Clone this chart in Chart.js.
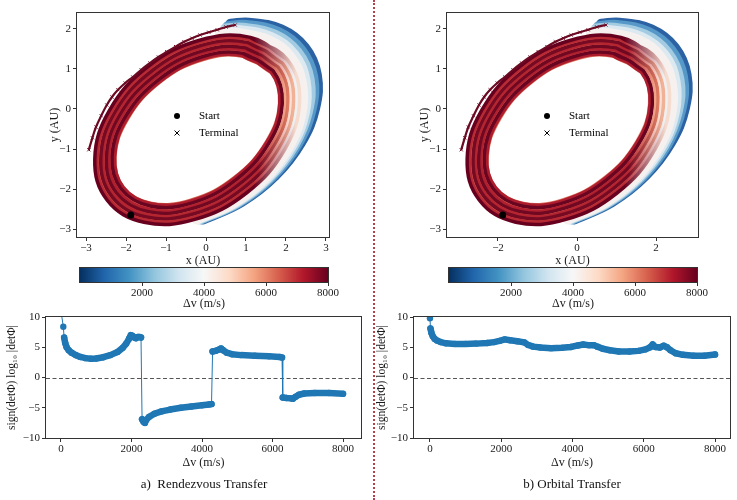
<!DOCTYPE html>
<html>
<head>
<meta charset="utf-8">
<script src="https://cdn.jsdelivr.net/npm/chart.js@4.4.1/dist/chart.umd.min.js"></script>
<style>
  body { margin: 0; background: #fff; }
  #page { position: relative; width: 737px; height: 500px; overflow: hidden; background: #fff; }
  canvas { position: absolute; }
  .sep { position: absolute; left: 373px; top: 0; height: 500px; border-left: 2px dotted #b3404c; }
  .cap { position: absolute; top: 476px; width: 300px; text-align: center; white-space: pre;
         font: 13px "Liberation Serif", "Times New Roman", serif; color: #111; }
</style>
</head>
<body>
<div id="page">
  <canvas id="orbA" width="365" height="272" style="left:0;top:0"></canvas>
  <canvas id="orbB" width="367" height="272" style="left:370px;top:0"></canvas>
  <canvas id="cbA" width="365" height="60" style="left:0;top:255px"></canvas>
  <canvas id="cbB" width="367" height="60" style="left:370px;top:255px"></canvas>
  <canvas id="detA" width="370" height="200" style="left:0;top:300px"></canvas>
  <canvas id="detB" width="367" height="200" style="left:370px;top:300px"></canvas>
  <div class="sep"></div>
  <div class="cap" style="left:54px">a)  Rendezvous Transfer</div>
  <div class="cap" style="left:422px">b) Orbital Transfer</div>
</div>
<script>
// ---- orbit tracks (x, y in AU), inner ring -> outer ring
const loop10 = [[1.63,0.93],[0.91,1.34],[-0.12,1.25],[-1.16,0.69],[-1.96,-0.20],[-2.29,-1.17],[-2.07,-1.97],[-1.35,-2.38],[-0.33,-2.29],[0.72,-1.73],[1.52,-0.84],[1.85,0.13]];
const loop20 = [[1.68,0.96],[0.93,1.39],[-0.12,1.30],[-1.19,0.73],[-2.01,-0.18],[-2.35,-1.18],[-2.12,-2.00],[-1.37,-2.43],[-0.32,-2.34],[0.75,-1.77],[1.57,-0.86],[1.91,0.14]];
const loop37 = [[1.75,1.02],[0.97,1.48],[-0.13,1.39],[-1.25,0.80],[-2.10,-0.15],[-2.44,-1.19],[-2.19,-2.06],[-1.41,-2.52],[-0.31,-2.43],[0.81,-1.84],[1.66,-0.89],[2.00,0.15]];
const loop47 = [[1.80,1.06],[0.99,1.53],[-0.13,1.44],[-1.28,0.84],[-2.15,-0.13],[-2.49,-1.20],[-2.24,-2.10],[-1.43,-2.57],[-0.31,-2.48],[0.84,-1.88],[1.71,-0.91],[2.05,0.16]];
const loop50 = [[1.81,1.07],[1.00,1.54],[-0.14,1.46],[-1.29,0.86],[-2.16,-0.13],[-2.51,-1.21],[-2.25,-2.11],[-1.44,-2.58],[-0.31,-2.50],[0.85,-1.90],[1.72,-0.92],[2.07,0.17]];
const loop63 = [[1.87,1.11],[1.03,1.61],[-0.14,1.53],[-1.33,0.91],[-2.23,-0.10],[-2.58,-1.22],[-2.31,-2.15],[-1.47,-2.65],[-0.30,-2.57],[0.89,-1.95],[1.79,-0.94],[2.14,0.18]];
const loop73 = [[1.91,1.15],[1.05,1.66],[-0.15,1.58],[-1.36,0.95],[-2.28,-0.08],[-2.63,-1.23],[-2.35,-2.19],[-1.49,-2.70],[-0.29,-2.62],[0.92,-1.99],[1.84,-0.96],[2.19,0.19]];
const loop90 = [[1.99,1.21],[1.09,1.74],[-0.16,1.67],[-1.42,1.02],[-2.36,-0.05],[-2.73,-1.24],[-2.43,-2.25],[-1.53,-2.78],[-0.29,-2.71],[0.98,-2.06],[1.92,-0.99],[2.29,0.20]];
const loop100 = [[2.03,1.24],[1.11,1.79],[-0.16,1.72],[-1.45,1.06],[-2.41,-0.03],[-2.78,-1.25],[-2.47,-2.28],[-1.55,-2.83],[-0.28,-2.76],[1.01,-2.10],[1.97,-1.01],[2.34,0.21]];

// low-dv crescent on the right side, outermost first
const arc00 = [[0.61,2.13],[1.07,2.16],[1.88,1.99],[2.47,1.54],[2.77,0.86],[2.73,0.03],[2.37,-0.85],[1.73,-1.67],[0.88,-2.33],[-0.07,-2.76]];
const arc20 = [[0.54,2.07],[1.00,2.10],[1.80,1.93],[2.38,1.48],[2.68,0.81],[2.64,-0.01],[2.29,-0.88],[1.66,-1.69],[0.82,-2.34],[-0.11,-2.76]];
const arc40 = [[0.48,2.01],[0.93,2.03],[1.72,1.86],[2.29,1.42],[2.59,0.75],[2.55,-0.06],[2.21,-0.91],[1.59,-1.71],[0.77,-2.35],[-0.15,-2.76]];
const arc60 = [[0.41,1.94],[0.85,1.97],[1.63,1.80],[2.21,1.36],[2.49,0.70],[2.47,-0.10],[2.13,-0.95],[1.53,-1.73],[0.71,-2.36],[-0.20,-2.76]];
const arc80 = [[0.35,1.88],[0.78,1.90],[1.55,1.73],[2.12,1.30],[2.40,0.64],[2.38,-0.15],[2.05,-0.98],[1.46,-1.75],[0.66,-2.37],[-0.24,-2.76]];

// terminal points of the high-dv end (thin arc, upper left)
const terminalArc = [[-2.93,-1.02],[-2.84,-0.72],[-2.75,-0.45],[-2.62,-0.17],[-2.48,0.10],[-2.35,0.30],[-2.20,0.48],[-2.02,0.65],[-1.83,0.80],[-1.62,0.98],[-1.40,1.15],[-1.19,1.30],[-0.98,1.43],[-0.76,1.56],[-0.55,1.68],[-0.35,1.77],[-0.15,1.85],[0.07,1.92],[0.28,1.98],[0.50,2.05],[0.73,2.10]];
const startPoint = [[-1.88,-2.65]];

// ---- bottom panels: sign(det) log10|det| against dv
const dvA = [0,66,90,120,160,220,300,420,550,700,850,1000,1200,1400,1600,1750,1850,1930,1980,2020,2080,2130,2180,2230,2270,2300,2340,2380,2420,2500,2650,2850,3100,3400,3700,4000,4200,4270,4300,4380,4470,4540,4600,4700,4850,5100,5500,5900,6200,6270,6290,6400,6520,6580,6650,6750,6900,7200,7600,8000];
const detA = [11,8.4,6.6,5.7,5.0,4.5,4.1,3.7,3.4,3.2,3.1,3.15,3.35,3.7,4.2,4.9,5.6,6.4,7.0,6.9,6.6,6.5,6.7,6.7,6.6,-6.9,-7.3,-7.5,-7.0,-6.5,-6.0,-5.6,-5.3,-5.0,-4.8,-4.6,-4.45,-4.4,4.3,4.4,4.6,4.8,4.5,4.1,3.85,3.7,3.6,3.5,3.4,3.3,-3.3,-3.4,-3.45,-3.5,-3.2,-2.85,-2.65,-2.55,-2.55,-2.7];
const dvB = [0,15,40,80,130,200,300,450,700,1000,1300,1600,1800,1950,2100,2250,2450,2650,2750,2900,3100,3400,3700,3950,4150,4300,4450,4600,4700,4850,5050,5300,5600,5850,6050,6180,6250,6330,6450,6560,6650,6750,6900,7100,7400,7700,8000];
const detB = [9.8,8.1,7.4,6.8,6.4,6.1,5.85,5.65,5.55,5.55,5.6,5.7,5.85,6.05,6.3,6.15,6.0,5.8,5.4,5.1,4.95,4.85,4.9,5.05,5.3,5.45,5.35,5.35,5.1,4.75,4.5,4.3,4.3,4.4,4.65,5.0,5.45,5.05,4.95,5.25,5.0,4.5,4.0,3.75,3.6,3.6,3.8];

// tick labels
const orbTicksXA = [-3, -2, -1, 0, 1, 2, 3];
const orbTicksXB = [-2, 0, 2];
const orbTicksY = [-3, -2, -1, 0, 1, 2];
const cbTicks = [2000, 4000, 6000, 8000];
const detTicksX = [0, 2000, 4000, 6000, 8000];
const detTicksY = [-10, -5, 0, 5, 10];

const RDBU = ['#053061','#2166ac','#4393c3','#92c5de','#d1e5f0','#f7f7f7','#fddbc7','#f4a582','#d6604d','#b2182b','#67001f'];

const SERIF = '"Liberation Serif", "Times New Roman", serif';
Chart.defaults.font.family = SERIF;
Chart.defaults.color = '#1a1a1a';
Chart.defaults.animation = false;

const pts = arr => arr.map(([x, y]) => ({ x, y }));
const loopPts = arr => pts([...arr, arr[0], arr[1]]);
const minus = v => (v < 0 ? '\u2212' + Math.abs(v) : String(v));
const fixTicks = list => s => { s.ticks = list.map(v => ({ value: v })); };

// colour that fades from `from` (left) to `to` (right) across the crescent
function fade(from, to, x0, x1) {
  return (c) => {
    const chart = c.chart;
    if (!chart.chartArea || from === to) return from;
    const sx = chart.scales.x;
    const g = chart.ctx.createLinearGradient(sx.getPixelForValue(x0), 0, sx.getPixelForValue(x1), 0);
    g.addColorStop(0, from);
    g.addColorStop(1, to);
    return g;
  };
}

const frame = {
  id: 'frame',
  afterDatasetsDraw(chart) {
    const { ctx, chartArea: a } = chart;
    ctx.save();
    ctx.strokeStyle = '#333';
    ctx.lineWidth = 1;
    ctx.strokeRect(Math.round(a.left) - 0.5, Math.round(a.top) - 0.5, Math.round(a.right - a.left) + 1, Math.round(a.bottom - a.top) + 1);
    ctx.restore();
  }
};

const orbitLegend = {
  id: 'orbitLegend',
  afterDatasetsDraw(chart) {
    const { ctx, chartArea: a } = chart;
    const x = a.left + 100, y1 = a.top + 103, y2 = a.top + 120;
    ctx.save();
    ctx.fillStyle = '#000';
    ctx.beginPath(); ctx.arc(x, y1, 3, 0, Math.PI * 2); ctx.fill();
    ctx.strokeStyle = '#000'; ctx.lineWidth = 1;
    ctx.beginPath();
    ctx.moveTo(x - 2.5, y2 - 2.5); ctx.lineTo(x + 2.5, y2 + 2.5);
    ctx.moveTo(x + 2.5, y2 - 2.5); ctx.lineTo(x - 2.5, y2 + 2.5);
    ctx.stroke();
    ctx.font = '11px ' + SERIF;
    ctx.textBaseline = 'middle';
    ctx.fillText('Start', x + 22, y1);
    ctx.fillText('Terminal', x + 22, y2);
    ctx.restore();
  }
};

const cbFill = {
  id: 'cbFill',
  beforeDatasetsDraw(chart) {
    const { ctx, chartArea: a } = chart;
    const g = ctx.createLinearGradient(a.left, 0, a.right, 0);
    RDBU.forEach((c, i) => g.addColorStop(i / (RDBU.length - 1), c));
    ctx.save();
    ctx.fillStyle = g;
    ctx.fillRect(a.left, a.top, a.right - a.left, a.bottom - a.top);
    ctx.restore();
  }
};

const zeroLine = {
  id: 'zeroLine',
  beforeDatasetsDraw(chart) {
    const { ctx, chartArea: a, scales: { y } } = chart;
    const py = Math.round(y.getPixelForValue(0)) + 0.5;
    ctx.save();
    ctx.strokeStyle = '#555';
    ctx.lineWidth = 1;
    ctx.setLineDash([4, 2.5]);
    ctx.beginPath(); ctx.moveTo(a.left, py); ctx.lineTo(a.right, py); ctx.stroke();
    ctx.restore();
  }
};

const tickGrid = { drawOnChartArea: false, drawTicks: true, tickLength: 4, color: '#333' };

// draw order, bottom first
const arcLayers = [
  { track: arc00, color: '#2b62a4' },
  { track: arc20, color: '#5698c8' },
  { track: arc40, color: '#a3cbe2' },
  { track: arc60, color: '#dce9f1' },
  { track: arc80, color: '#f6f1ee' }
];
const ringLayersA = [
  { track: loop50, width: 22, from: '#d4634f', to: '#fbe7dc', x0: 1.2, x1: 2.1 },
  { track: loop10, width: 4, from: '#ad1d2d', to: '#ad1d2d' },
  { track: loop20, width: 3.5, from: '#690520', to: '#690520' },
  { track: loop37, width: 4, from: '#b0202f', to: '#f4a889', x0: 1.3, x1: 2.0 },
  { track: loop47, width: 3.5, from: '#700822', to: '#de7a61', x0: 1.3, x1: 2.05 },
  { track: loop63, width: 4, from: '#b42530', to: '#fbe2d5', x0: 1.3, x1: 2.1 },
  { track: loop73, width: 3.5, from: '#760a23', to: '#f0b196', x0: 1.3, x1: 2.15 },
  { track: loop90, width: 4, from: '#b82a33', to: '#eef1f3', x0: 1.2, x1: 2.2 },
  { track: loop100, width: 3.5, from: '#67001f', to: '#f6dccf', x0: 1.2, x1: 2.25 }
];
const ringLayersB = ringLayersA.map((l, i) => (i === 0 ? { ...l, from: '#dc7560' } : l));

function orbitChart(id, xMin, xMax, xTicks, padRight, rings) {
  const ds = [];
  arcLayers.forEach(l => ds.push({
    data: pts(l.track), showLine: true, tension: 0.4, pointRadius: 0,
    borderWidth: 10, borderColor: l.color, borderCapStyle: 'round'
  }));
  rings.forEach(l => ds.push({
    data: loopPts(l.track), showLine: true, tension: 0.4, pointRadius: 0,
    borderWidth: l.width, borderColor: fade(l.from, l.to, l.x0, l.x1)
  }));
  ds.push({
    data: pts(terminalArc), showLine: true, tension: 0.4, borderWidth: 2.2, borderColor: '#6b0a22',
    pointStyle: 'crossRot', pointRadius: 2.2, pointBorderWidth: 1, pointBorderColor: '#6b0a22'
  });
  ds.push({ data: pts(startPoint), pointRadius: 3.5, pointBackgroundColor: '#000', pointBorderWidth: 0 });
  ds.forEach((d, i) => { d.order = ds.length - i; });

  new Chart(document.getElementById(id), {
    type: 'scatter',
    data: { datasets: ds },
    options: {
      responsive: false,
      events: [],
      layout: { padding: { left: 48, right: padRight, top: 13, bottom: 4 } },
      plugins: { legend: { display: false }, tooltip: { enabled: false } },
      scales: {
        x: {
          min: xMin, max: xMax,
          afterFit: s => { s.height = 31; },
          afterBuildTicks: fixTicks(xTicks),
          ticks: { padding: 1, font: { size: 11 }, callback: minus },
          grid: tickGrid, border: { display: false },
          title: { display: true, text: 'x (AU)', font: { size: 12 }, padding: 0 }
        },
        y: {
          min: -3.2, max: 2.4,
          afterFit: s => { s.width = 29; },
          afterBuildTicks: fixTicks(orbTicksY),
          ticks: { padding: 2, font: { size: 11 }, callback: minus },
          grid: tickGrid, border: { display: false },
          title: { display: true, text: 'y (AU)', font: { size: 12 }, padding: 0 }
        }
      }
    },
    plugins: [frame, orbitLegend]
  });
}

function colorbar(id, padLeft, padRight) {
  new Chart(document.getElementById(id), {
    type: 'scatter',
    data: { datasets: [] },
    options: {
      responsive: false,
      events: [],
      layout: { padding: { left: padLeft, right: padRight, top: 13, bottom: 4 } },
      plugins: { legend: { display: false }, tooltip: { enabled: false } },
      scales: {
        x: {
          min: 0, max: 8000,
          afterFit: s => { s.height = 29; },
          afterBuildTicks: fixTicks(cbTicks),
          ticks: { padding: 1, font: { size: 11 }, callback: v => String(v) },
          grid: tickGrid, border: { display: false },
          title: { display: true, text: '\u0394v (m/s)', font: { size: 12 }, padding: 0 }
        },
        y: { display: false, min: 0, max: 1 }
      }
    },
    plugins: [cbFill, frame]
  });
}

function detChart(id, dv, det, xMin, xMax, yWidth, padRight) {
  new Chart(document.getElementById(id), {
    type: 'scatter',
    data: {
      datasets: [{
        data: dv.map((x, i) => ({ x, y: det[i] })),
        showLine: true,
        borderColor: '#1f77b4', backgroundColor: '#1f77b4',
        pointRadius: 3.2, pointBorderWidth: 0,
        borderWidth: 6.5, borderCapStyle: 'round', borderJoinStyle: 'round',
        segment: {
          borderWidth: c => (Math.abs(c.p1.parsed.y - c.p0.parsed.y) > 1.5 ? 1 : 6.5)
        }
      }]
    },
    options: {
      responsive: false,
      events: [],
      layout: { padding: { left: 5, right: padRight, top: 17, bottom: 30 } },
      plugins: { legend: { display: false }, tooltip: { enabled: false } },
      scales: {
        x: {
          min: xMin, max: xMax,
          afterFit: s => { s.height = 32; },
          afterBuildTicks: fixTicks(detTicksX),
          ticks: { padding: 1, font: { size: 11 }, callback: v => String(v) },
          grid: tickGrid, border: { display: false },
          title: { display: true, text: '\u0394v (m/s)', font: { size: 12 }, padding: 0 }
        },
        y: {
          min: -10, max: 10,
          afterFit: s => { s.width = yWidth; },
          afterBuildTicks: fixTicks(detTicksY),
          ticks: { padding: 2, font: { size: 11 }, callback: minus },
          grid: tickGrid, border: { display: false },
          title: { display: true, text: 'sign(det\u03A6) log\u2081\u2080 |det\u03A6|', font: { size: 11.5 }, padding: 0 }
        }
      }
    },
    plugins: [zeroLine, frame]
  });
}

orbitChart('orbA', -3.225, 3.075, orbTicksXA, 36, ringLayersA);
orbitChart('orbB', -3.29, 3.06, orbTicksXB, 39, ringLayersB);
colorbar('cbA', 80, 37);
colorbar('cbB', 79, 40);
detChart('detA', dvA, detA, -425, 8510, 41, 9);
detChart('detB', dvB, detB, -448, 8420, 39, 7);
</script>
</body>
</html>
